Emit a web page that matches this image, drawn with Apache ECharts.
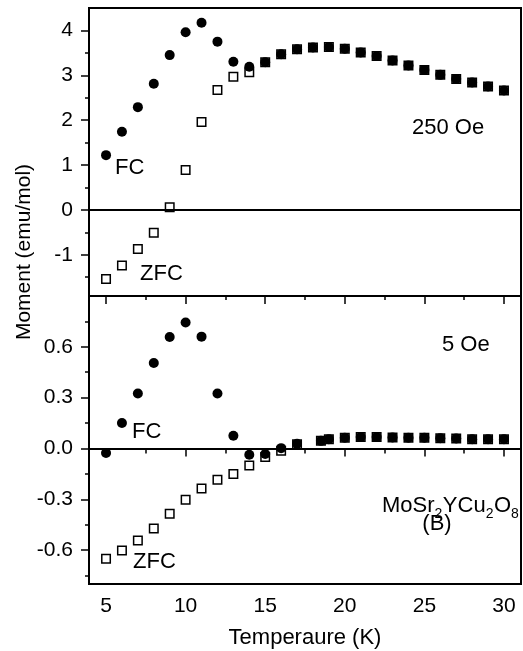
<!DOCTYPE html>
<html>
<head>
<meta charset="utf-8">
<script src="https://cdn.jsdelivr.net/npm/echarts@6/dist/echarts.min.js"></script>
<style>html,body{margin:0;padding:0;background:#fff}#c{width:523px;height:651px}</style>
</head>
<body>
<div id="c"></div>
<script>
// ---- data ----
const temps250 = [5,6,7,8,9,10,11,12,13,14,15,16,17,18,19,20,21,22,23,24,25,26,27,28,29,30];
const fc250 = [1.22,1.74,2.29,2.81,3.45,3.96,4.17,3.75,3.30,3.19,3.29,3.47,3.58,3.62,3.63,3.59,3.51,3.43,3.33,3.22,3.12,3.01,2.92,2.84,2.75,2.66];
const zfcTemps250 = [5,6,7,8,9,10,11,12,13,14,15,16,17,18,19,20,21,22,23,24,25,26,27,28,29,30];
const zfc250 = [-1.54,-1.24,-0.87,-0.51,0.06,0.89,1.96,2.67,2.97,3.07,3.29,3.47,3.58,3.62,3.63,3.59,3.51,3.43,3.33,3.22,3.12,3.01,2.92,2.84,2.75,2.66];

const temps5 = [5,6,7,8,9,10,11,12,13,14,15,16,17,18.5,19,20,21,22,23,24,25,26,27,28,29,30];
const fc5 = [-0.027,0.150,0.325,0.504,0.658,0.744,0.660,0.325,0.075,-0.037,-0.033,0.002,0.028,0.045,0.055,0.063,0.067,0.067,0.065,0.063,0.063,0.061,0.059,0.055,0.055,0.055];
const zfcTemps5 = [5,6,7,8,9,10,11,12,13,14,15,16,17,18.5,19,20,21,22,23,24,25,26,27,28,29,30];
const zfc5 = [-0.651,-0.602,-0.543,-0.472,-0.386,-0.303,-0.236,-0.185,-0.151,-0.100,-0.051,-0.014,0.025,0.045,0.055,0.063,0.067,0.067,0.065,0.063,0.063,0.061,0.059,0.055,0.055,0.055];

const xMajor = [5,10,15,20,25,30];
const xMinor = [7.5,12.5,17.5,22.5,27.5];
const yTopMajor = [-1,0,1,2,3,4];
const yTopMinor = [-1.5,-0.5,0.5,1.5,2.5,3.5];
const yBotMajor = [-0.6,-0.3,0,0.3,0.6];
const yBotMinor = [-0.75,-0.45,-0.15,0.15,0.45,0.75];

const FONT = 'Liberation Sans, Arial, Helvetica, sans-serif';
const zip = (xs, ys) => xs.map((x, i) => [x, ys[i]]);

const chart = echarts.init(document.getElementById('c'), null, {renderer: 'canvas'});

const hidden = {axisLine:{show:false}, axisTick:{show:false}, axisLabel:{show:false}, splitLine:{show:false}};
const XMIN = 3.93, XMAX = 31.07;

function xAx(grid, pos, vals, len, inside, labels) {
  return {
    type:'value', gridIndex:grid, position:pos, min:XMIN, max:XMAX,
    axisLine:{show:false}, splitLine:{show:false},
    axisTick:{show:true, customValues:vals, length:len, inside:inside, lineStyle:{color:'#000', width:1.5}},
    axisLabel:{show:!!labels, customValues:vals, margin:12, color:'#000', fontFamily:FONT, fontSize:21}
  };
}
function yAx(grid, mn, mx, vals, len, labels, fmt) {
  return {
    type:'value', gridIndex:grid, position:'left', min:mn, max:mx,
    axisLine:{show:false}, splitLine:{show:false},
    axisTick:{show:true, customValues:vals, length:len, inside:false, lineStyle:{color:'#000', width:1.5}},
    axisLabel:{show:!!labels, customValues:vals, margin:16, color:'#000', fontFamily:FONT, fontSize:21, formatter:fmt}
  };
}

const zeroLine = {silent:true, symbol:'none', label:{show:false}, lineStyle:{color:'#000', width:2, type:'solid'}, data:[{yAxis:0}]};
const openSq = {color:'#fff', borderColor:'#000', borderWidth:1.5, opacity:1};
const filled = {color:'#000', opacity:1};

// formula pieces measured with canvas
const ctx = document.createElement('canvas').getContext('2d');
function tw(txt, size) { ctx.font = size + 'px ' + FONT; return ctx.measureText(txt).width; }
const formula = [['MoSr',0],['2',1],['YCu',0],['2',1],['O',0],['8',1]];
const MAIN = 22, SUB = 14;
const formulaEls = [];
let fx = 382;
formula.forEach(([t, sub]) => {
  const size = sub ? SUB : MAIN;
  formulaEls.push({type:'text', x:fx, y: sub ? 514 : 506, style:{text:t, font:size+'px '+FONT, fill:'#000', verticalAlign:'middle', align:'left'}});
  fx += tw(t, size) + (sub ? 0.5 : 0);
});

function label(t, x, y, size, align) {
  return {type:'text', x:x, y:y, style:{text:t, font:(size||22)+'px '+FONT, fill:'#000', verticalAlign:'middle', align:align||'left'}};
}

chart.setOption({
  animation:false,
  backgroundColor:'#fff',
  grid:[
    {left:89, right:2, top:8, height:288, show:true, borderColor:'#000', borderWidth:2, backgroundColor:'transparent'},
    {left:89, right:2, top:296, height:288, show:true, borderColor:'#000', borderWidth:2, backgroundColor:'transparent'}
  ],
  xAxis:[
    Object.assign({type:'value', gridIndex:0, position:'bottom', min:XMIN, max:XMAX}, hidden),
    xAx(1,'bottom',xMajor,8,false,true),
    xAx(1,'bottom',xMinor,5,false,false),
    xAx(1,'top',xMajor,8,true,false),
    xAx(1,'top',xMinor,4,true,false)
  ],
  yAxis:[
    yAx(0,-1.92,4.5,yTopMajor,8,true,v=>String(Math.round(v))),
    yAx(0,-1.92,4.5,yTopMinor,4,false),
    yAx(1,-0.8,0.9,yBotMajor,8,true,v=>(Math.abs(v)<1e-9?0:v).toFixed(1)),
    yAx(1,-0.8,0.9,yBotMinor,4,false)
  ],
  series:[
    {type:'scatter', name:'ZFC 250', xAxisIndex:0, yAxisIndex:0, symbol:'rect', symbolSize:8.5, itemStyle:openSq, data:zip(zfcTemps250,zfc250), z:2, markLine:zeroLine},
    {type:'scatter', name:'FC 250', xAxisIndex:0, yAxisIndex:0, symbol:'circle', symbolSize:10, itemStyle:filled, data:zip(temps250,fc250), z:3},
    {type:'scatter', name:'ZFC 5', xAxisIndex:1, yAxisIndex:2, symbol:'rect', symbolSize:8.5, itemStyle:openSq, data:zip(zfcTemps5,zfc5), z:2, markLine:zeroLine},
    {type:'scatter', name:'FC 5', xAxisIndex:1, yAxisIndex:2, symbol:'circle', symbolSize:10, itemStyle:filled, data:zip(temps5,fc5), z:3}
  ],
  graphic:[
    label('FC', 115, 168),
    label('ZFC', 140, 274),
    label('250 Oe', 412, 128),
    label('5 Oe', 442, 345),
    label('FC', 132, 432),
    label('ZFC', 133, 562),
    label('(B)', 437, 524, 22, 'center'),
    {type:'text', x:24, y:252, rotation:Math.PI/2, style:{text:'Moment (emu/mol)', font:'21px '+FONT, fill:'#000', verticalAlign:'middle', align:'center'}},
    label('Temperaure (K)', 305, 638, 22, 'center')
  ].concat(formulaEls)
});
</script>
</body>
</html>
